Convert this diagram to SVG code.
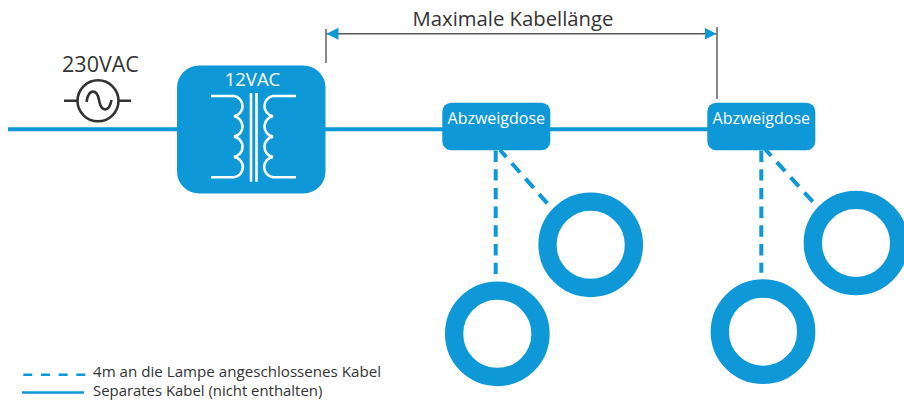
<svg xmlns="http://www.w3.org/2000/svg" width="904" height="400" viewBox="0 0 904 400">
<style>
text{font-family:"Open Sans","Noto Sans",sans-serif}
.t{fill:#333}
.w{fill:#fff}
.c{fill:none;stroke:#0f98d8}
.dv{stroke-width:4;stroke-dasharray:11.4 7.3}
.dd{stroke-width:4;stroke-dasharray:12.3 8.3}
.ring{fill:none;stroke:#0f98d8;stroke-width:18.3}
.box{fill:#0f98d8}
.k{fill:none;stroke:#333;stroke-width:2.6}
.g{fill:none;stroke:#555;stroke-width:1.4}
.coil{fill:none;stroke:#fff;stroke-width:2.6}
</style>
<defs>
<marker id="ah" viewBox="0 0 12 12" markerWidth="12" markerHeight="12" markerUnits="userSpaceOnUse" refX="12" refY="6" orient="auto-start-reverse"><path d="M0 0L12 6L0 12Z" fill="#0f98d8"/></marker>
</defs>
<g id="connectors">
<path class="c" stroke-width="4" d="M8 129.3H178M325 129.3H443M550 129.3H708"/>
<path class="c dv" d="M495.7 150.500V274"/>
<path class="c dd" d="M547.3 203.3L500 150"/>
<path class="c dv" d="M761.3 150.500V272.7"/>
<path class="c dd" d="M812.7 201.7L765 149"/>
<path class="g" d="M326 29V63M717 27V99"/>
<path class="g" d="M326.500 33.700H716.500" marker-start="url(#ah)" marker-end="url(#ah)"/>
</g>
<g id="source">
<text class="t" x="100.500" y="72" font-size="21.500" text-anchor="middle">230VAC</text>
<circle class="k" cx="98" cy="100.800" r="20.500"/>
<path class="k" d="M64 100.800H77M119 100.800H131"/>
<path class="k" d="M86.500 102C88.500 88 97 89 99 100C101 112 109 113 111.500 100"/>
</g>
<g id="transformer">
<rect class="box" x="177" y="65.500" width="148.500" height="128" rx="22"/>
<text class="w" x="252.500" y="85.700" font-size="18.500" text-anchor="middle">12VAC</text>
<path class="coil" d="M211 96H234A10.300 10.300 0 0 1 234 116.300A10.300 10.300 0 0 1 234 136.600A10.300 10.300 0 0 1 234 156.900A10.300 10.300 0 0 1 234 177.300H211"/>
<path class="coil" d="M296 96H273A10.300 10.300 0 0 0 273 116.300A10.300 10.300 0 0 0 273 136.600A10.300 10.300 0 0 0 273 156.900A10.300 10.300 0 0 0 273 177.300H296"/>
<path class="coil" d="M251 93V181.700M256.500 93V181.700"/>
</g>
<g id="box1">
<rect class="box" x="442.300" y="102.700" width="108" height="47.600" rx="9"/>
<text class="w" x="496.300" y="124" font-size="16" text-anchor="middle">Abzweigdose</text>
</g>
<g id="box2">
<rect class="box" x="707.300" y="102.700" width="108" height="47.600" rx="9"/>
<text class="w" x="761.300" y="124" font-size="16" text-anchor="middle">Abzweigdose</text>
</g>
<g id="lamp1"><circle class="ring" cx="497.300" cy="333.800" r="43.200"/></g>
<g id="lamp2"><circle class="ring" cx="590.700" cy="244.800" r="43.200"/></g>
<g id="lamp3"><circle class="ring" cx="763" cy="331.700" r="43.200"/></g>
<g id="lamp4"><circle class="ring" cx="856" cy="243" r="43.200"/></g>
<g id="title"><text class="t" x="513" y="26" font-size="20.300" text-anchor="middle">Maximale Kabellänge</text></g>
<g id="legend">
<path class="c" stroke-width="2.500" stroke-dasharray="9 8.670" d="M23.300 374.700H85.300"/>
<path class="c" stroke-width="2.500" d="M22 392.400H84"/>
<text class="t" x="93" y="377" font-size="15.150">4m an die Lampe angeschlossenes Kabel</text>
<text class="t" x="93" y="396.300" font-size="14.900">Separates Kabel (nicht enthalten)</text>
</g>
</svg>
